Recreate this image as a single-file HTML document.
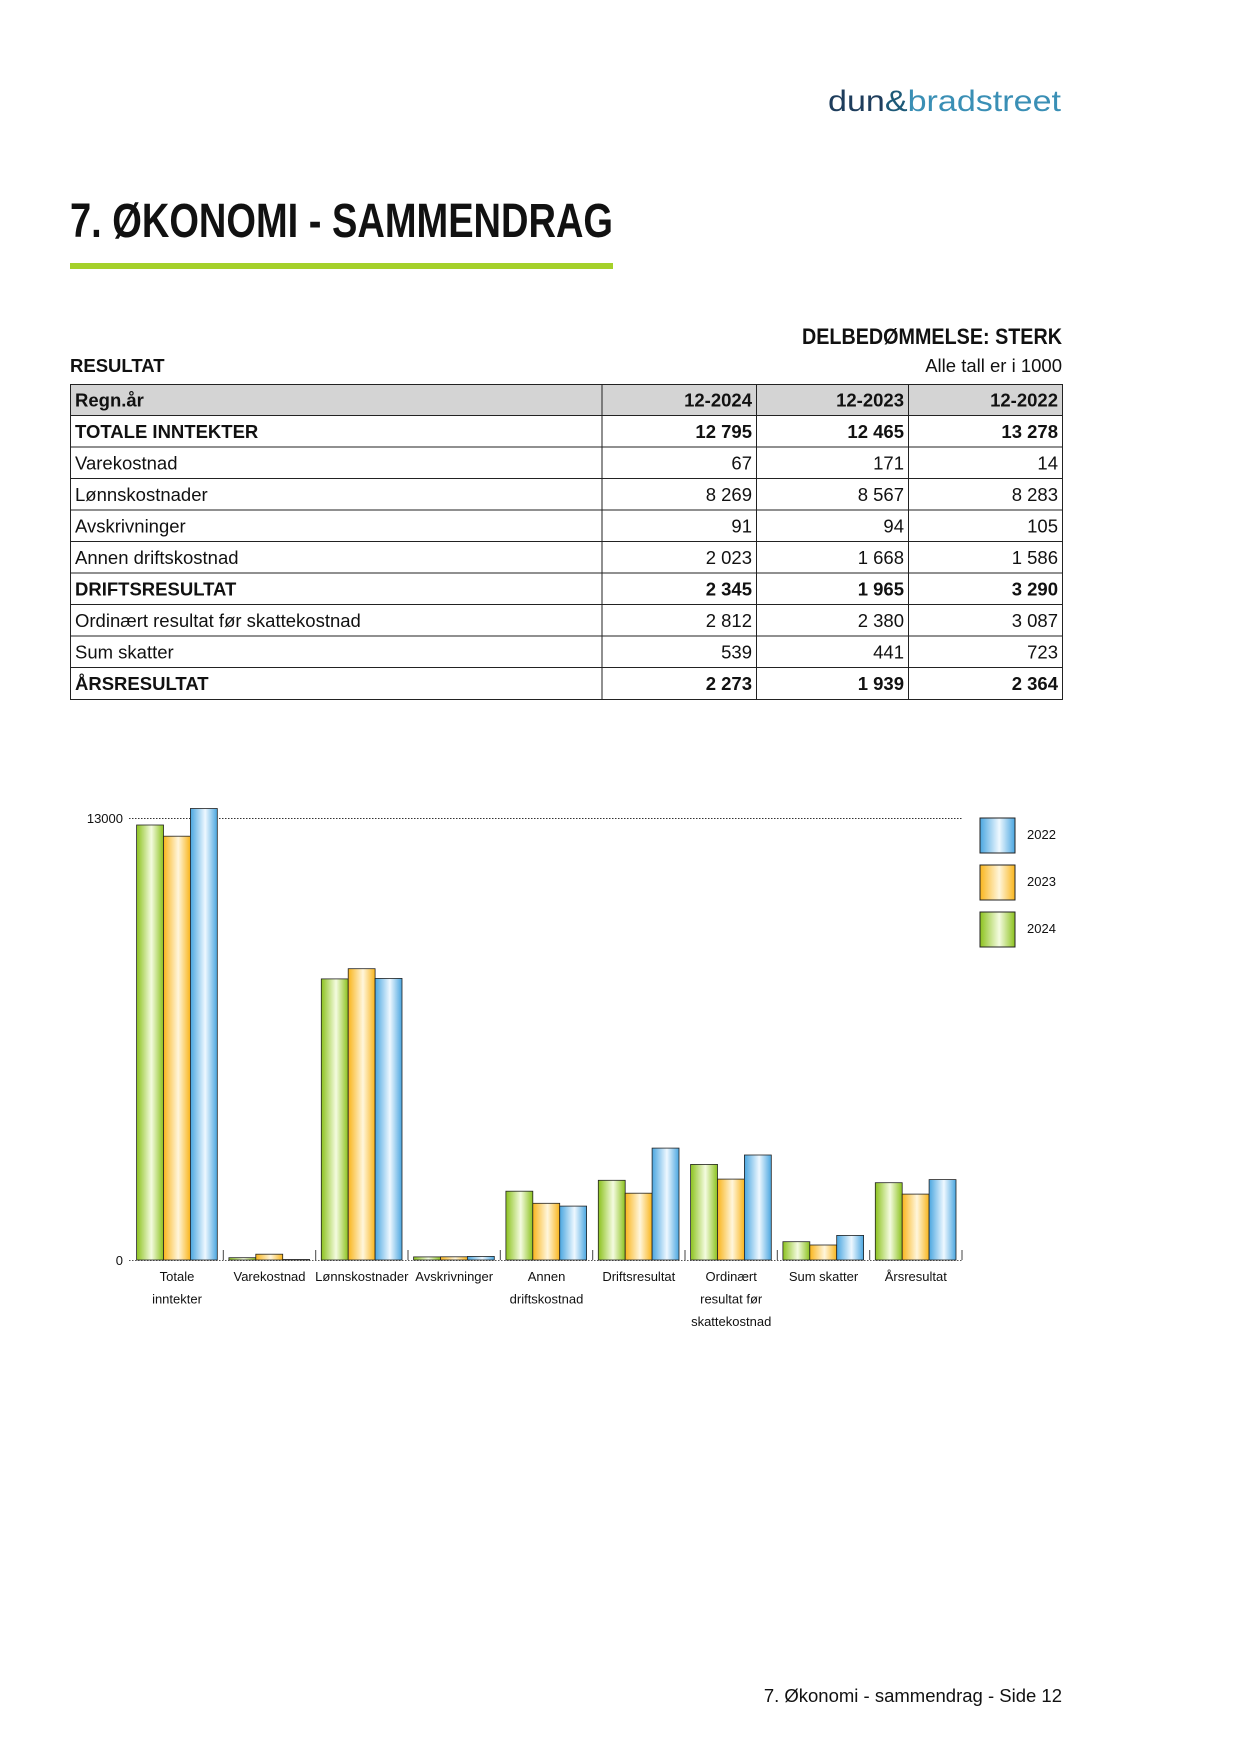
<!DOCTYPE html>
<html><head><meta charset="utf-8"><style>
html,body{margin:0;padding:0;background:#fff}
svg{display:block}
text{font-family:"Liberation Sans",Arial,sans-serif;fill:#111}
</style></head><body>
<svg width="1241" height="1754" viewBox="0 0 1241 1754" xmlns="http://www.w3.org/2000/svg">
<defs>
<linearGradient id="gG" x1="0" x2="1" y1="0" y2="0"><stop offset="0" stop-color="#8cc21e"/><stop offset="0.55" stop-color="#f4fbe0"/><stop offset="1" stop-color="#8cc21e"/></linearGradient>
<linearGradient id="gO" x1="0" x2="1" y1="0" y2="0"><stop offset="0" stop-color="#f9b51c"/><stop offset="0.55" stop-color="#fff6dc"/><stop offset="1" stop-color="#f9b51c"/></linearGradient>
<linearGradient id="gB" x1="0" x2="1" y1="0" y2="0"><stop offset="0" stop-color="#4aa6e0"/><stop offset="0.55" stop-color="#eef8ff"/><stop offset="1" stop-color="#4aa6e0"/></linearGradient>
</defs>

<text x="828" y="111" font-size="30" textLength="233" lengthAdjust="spacingAndGlyphs"><tspan fill="#1e3d5c">dun</tspan><tspan fill="#1e5a78">&amp;</tspan><tspan fill="#3a8fb5">bradstreet</tspan></text>

<text x="70" y="237" font-size="48" font-weight="bold" textLength="543" lengthAdjust="spacingAndGlyphs">7. ØKONOMI - SAMMENDRAG</text>
<rect x="70" y="263" width="543" height="6" fill="#a5d12a"/>

<text x="1062" y="344" font-size="22" font-weight="bold" text-anchor="end" textLength="260" lengthAdjust="spacingAndGlyphs">DELBEDØMMELSE: STERK</text>
<text x="70" y="372" font-size="18.5" font-weight="bold">RESULTAT</text>
<text x="1062" y="372" font-size="18.5" text-anchor="end">Alle tall er i 1000</text>

<rect x="70.5" y="384" width="992" height="31.5" fill="#d4d4d4"/>
<g stroke="#222" stroke-width="1" fill="none">
<rect x="70.5" y="384.5" width="992" height="315"/>
<line x1="602" y1="384" x2="602" y2="699"/>
<line x1="756.5" y1="384" x2="756.5" y2="699"/>
<line x1="908.5" y1="384" x2="908.5" y2="699"/>
<line x1="70" y1="415.5" x2="1063" y2="415.5"/>
<line x1="70" y1="447" x2="1063" y2="447"/>
<line x1="70" y1="478.5" x2="1063" y2="478.5"/>
<line x1="70" y1="510" x2="1063" y2="510"/>
<line x1="70" y1="541.5" x2="1063" y2="541.5"/>
<line x1="70" y1="573" x2="1063" y2="573"/>
<line x1="70" y1="604.5" x2="1063" y2="604.5"/>
<line x1="70" y1="636" x2="1063" y2="636"/>
<line x1="70" y1="667.5" x2="1063" y2="667.5"/>
</g>
<g font-size="18.5">
<g font-weight="bold"><text x="75" y="406.5">Regn.år</text><text x="752" y="406.5" text-anchor="end">12-2024</text><text x="904" y="406.5" text-anchor="end">12-2023</text><text x="1058" y="406.5" text-anchor="end">12-2022</text></g>
<g font-weight="bold"><text x="75" y="438">TOTALE INNTEKTER</text><text x="752" y="438" text-anchor="end">12 795</text><text x="904" y="438" text-anchor="end">12 465</text><text x="1058" y="438" text-anchor="end">13 278</text></g>
<text x="75" y="469.5">Varekostnad</text><text x="752" y="469.5" text-anchor="end">67</text><text x="904" y="469.5" text-anchor="end">171</text><text x="1058" y="469.5" text-anchor="end">14</text>
<text x="75" y="501">Lønnskostnader</text><text x="752" y="501" text-anchor="end">8 269</text><text x="904" y="501" text-anchor="end">8 567</text><text x="1058" y="501" text-anchor="end">8 283</text>
<text x="75" y="532.5">Avskrivninger</text><text x="752" y="532.5" text-anchor="end">91</text><text x="904" y="532.5" text-anchor="end">94</text><text x="1058" y="532.5" text-anchor="end">105</text>
<text x="75" y="564">Annen driftskostnad</text><text x="752" y="564" text-anchor="end">2 023</text><text x="904" y="564" text-anchor="end">1 668</text><text x="1058" y="564" text-anchor="end">1 586</text>
<g font-weight="bold"><text x="75" y="595.5">DRIFTSRESULTAT</text><text x="752" y="595.5" text-anchor="end">2 345</text><text x="904" y="595.5" text-anchor="end">1 965</text><text x="1058" y="595.5" text-anchor="end">3 290</text></g>
<text x="75" y="627">Ordinært resultat før skattekostnad</text><text x="752" y="627" text-anchor="end">2 812</text><text x="904" y="627" text-anchor="end">2 380</text><text x="1058" y="627" text-anchor="end">3 087</text>
<text x="75" y="658.5">Sum skatter</text><text x="752" y="658.5" text-anchor="end">539</text><text x="904" y="658.5" text-anchor="end">441</text><text x="1058" y="658.5" text-anchor="end">723</text>
<g font-weight="bold"><text x="75" y="690">ÅRSRESULTAT</text><text x="752" y="690" text-anchor="end">2 273</text><text x="904" y="690" text-anchor="end">1 939</text><text x="1058" y="690" text-anchor="end">2 364</text></g>
</g>

<line x1="129" y1="818.5" x2="962" y2="818.5" stroke="#333" stroke-width="1" stroke-dasharray="1.5,1.5"/>
<line x1="129" y1="1260.5" x2="962" y2="1260.5" stroke="#555" stroke-width="1" stroke-dasharray="1.5,1.5"/>
<text x="123" y="823" font-size="13" text-anchor="end" fill="#444">13000</text>
<text x="123" y="1265" font-size="13" text-anchor="end" fill="#444">0</text>
<g stroke="#444" stroke-width="1">
<line x1="223.3" y1="1250" x2="223.3" y2="1260"/><line x1="315.7" y1="1250" x2="315.7" y2="1260"/><line x1="408" y1="1250" x2="408" y2="1260"/><line x1="500.3" y1="1250" x2="500.3" y2="1260"/><line x1="592.7" y1="1250" x2="592.7" y2="1260"/><line x1="685" y1="1250" x2="685" y2="1260"/><line x1="777.3" y1="1250" x2="777.3" y2="1260"/><line x1="869.7" y1="1250" x2="869.7" y2="1260"/><line x1="962" y1="1250" x2="962" y2="1260"/>
</g>
<g stroke="#222" stroke-width="0.8">
<rect x="136.6" y="825" width="26.9" height="435" fill="url(#gG)"/><rect x="163.5" y="836.2" width="26.9" height="423.8" fill="url(#gO)"/><rect x="190.4" y="808.5" width="26.9" height="451.5" fill="url(#gB)"/>
<rect x="228.9" y="1257.7" width="26.9" height="2.3" fill="url(#gG)"/><rect x="255.8" y="1254.2" width="26.9" height="5.8" fill="url(#gO)"/><rect x="282.7" y="1259.5" width="26.9" height="0.5" fill="url(#gB)"/>
<rect x="321.3" y="978.9" width="26.9" height="281.1" fill="url(#gG)"/><rect x="348.2" y="968.7" width="26.9" height="291.3" fill="url(#gO)"/><rect x="375.1" y="978.4" width="26.9" height="281.6" fill="url(#gB)"/>
<rect x="413.6" y="1256.9" width="26.9" height="3.1" fill="url(#gG)"/><rect x="440.5" y="1256.8" width="26.9" height="3.2" fill="url(#gO)"/><rect x="467.4" y="1256.4" width="26.9" height="3.6" fill="url(#gB)"/>
<rect x="505.9" y="1191.2" width="26.9" height="68.8" fill="url(#gG)"/><rect x="532.8" y="1203.3" width="26.9" height="56.7" fill="url(#gO)"/><rect x="559.7" y="1206.1" width="26.9" height="53.9" fill="url(#gB)"/>
<rect x="598.3" y="1180.3" width="26.9" height="79.7" fill="url(#gG)"/><rect x="625.2" y="1193.2" width="26.9" height="66.8" fill="url(#gO)"/><rect x="652.1" y="1148.1" width="26.9" height="111.9" fill="url(#gB)"/>
<rect x="690.6" y="1164.4" width="26.9" height="95.6" fill="url(#gG)"/><rect x="717.5" y="1179.1" width="26.9" height="80.9" fill="url(#gO)"/><rect x="744.4" y="1155" width="26.9" height="105" fill="url(#gB)"/>
<rect x="782.9" y="1241.7" width="26.9" height="18.3" fill="url(#gG)"/><rect x="809.8" y="1245" width="26.9" height="15" fill="url(#gO)"/><rect x="836.7" y="1235.4" width="26.9" height="24.6" fill="url(#gB)"/>
<rect x="875.3" y="1182.7" width="26.9" height="77.3" fill="url(#gG)"/><rect x="902.2" y="1194.1" width="26.9" height="65.9" fill="url(#gO)"/><rect x="929.1" y="1179.6" width="26.9" height="80.4" fill="url(#gB)"/>
</g>
<g font-size="13" text-anchor="middle" fill="#222">
<text x="177" y="1281">Totale</text><text x="177" y="1303.4">inntekter</text>
<text x="269.5" y="1281">Varekostnad</text>
<text x="361.8" y="1281">Lønnskostnader</text>
<text x="454.2" y="1281">Avskrivninger</text>
<text x="546.5" y="1281">Annen</text><text x="546.5" y="1303.4">driftskostnad</text>
<text x="638.8" y="1281">Driftsresultat</text>
<text x="731.2" y="1281">Ordinært</text><text x="731.2" y="1303.4">resultat før</text><text x="731.2" y="1325.8">skattekostnad</text>
<text x="823.5" y="1281">Sum skatter</text>
<text x="915.8" y="1281">Årsresultat</text>
</g>
<g stroke="#222" stroke-width="1">
<rect x="980" y="818" width="35" height="35" fill="url(#gB)"/>
<rect x="980" y="865" width="35" height="35" fill="url(#gO)"/>
<rect x="980" y="912" width="35" height="35" fill="url(#gG)"/>
</g>
<g font-size="13" fill="#222">
<text x="1027" y="839">2022</text><text x="1027" y="886">2023</text><text x="1027" y="933">2024</text>
</g>

<text x="1062" y="1702" font-size="18.5" text-anchor="end">7. Økonomi - sammendrag - Side 12</text>
</svg>
</body></html>
